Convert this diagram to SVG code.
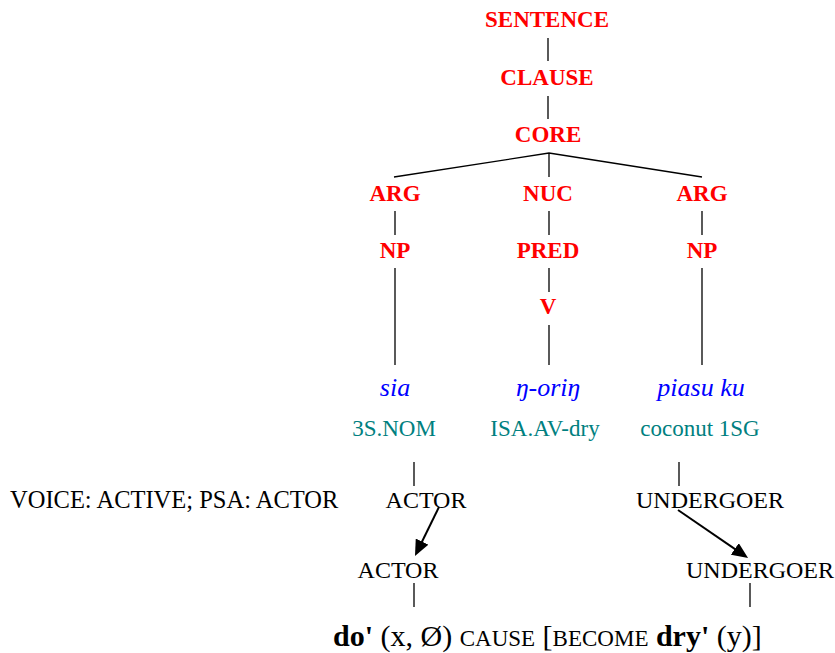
<svg xmlns="http://www.w3.org/2000/svg" width="835" height="653" viewBox="0 0 835 653">
  <defs>
    <style>
      .lbl { font-family: "Liberation Serif", "Times New Roman", serif; font-weight: bold; font-size: 23px; fill: #ff0000; text-anchor: middle; }
      .word { font-family: "Liberation Serif", "Times New Roman", serif; font-style: italic; font-size: 26px; fill: #0000ff; text-anchor: middle; }
      .gloss { font-family: "Liberation Serif", "Times New Roman", serif; font-size: 23px; fill: #008080; text-anchor: middle; }
      .role { font-family: "Liberation Serif", "Times New Roman", serif; font-size: 24px; fill: #000000; text-anchor: middle; }
      .plain { font-family: "Liberation Serif", "Times New Roman", serif; font-size: 24.5px; fill: #000000; }
      .ls { font-family: "Liberation Serif", "Times New Roman", serif; font-size: 30px; fill: #000000; }
      .edge { stroke: #000000; stroke-width: 1.3; fill: none; }
      .link { stroke: #000000; stroke-width: 2; fill: none; marker-end: url(#head); }
    </style>
    <marker id="head" viewBox="0 0 16 14" refX="6" refY="7" markerWidth="16" markerHeight="14" markerUnits="userSpaceOnUse" orient="auto">
      <path d="M0,0 L16,7 L0,14 z" fill="#000000"/>
    </marker>
  </defs>
  <rect width="835" height="653" fill="#ffffff"/>

  <!-- tree edges and linking arrows -->
  <g id="connectors">
    <line class="edge" x1="548" y1="38" x2="548" y2="61"/>
    <line class="edge" x1="548" y1="96" x2="548" y2="119"/>
    <polyline class="edge" points="394,177 549,153 702,177"/>
    <line class="edge" x1="549" y1="153" x2="549" y2="177"/>
    <line class="edge" x1="395" y1="211" x2="395" y2="235"/>
    <line class="edge" x1="549" y1="211" x2="549" y2="235"/>
    <line class="edge" x1="702" y1="211" x2="702" y2="235"/>
    <line class="edge" x1="395" y1="268" x2="395" y2="365"/>
    <line class="edge" x1="549" y1="268" x2="549" y2="292"/>
    <line class="edge" x1="549" y1="325" x2="549" y2="365"/>
    <line class="edge" x1="702" y1="268" x2="702" y2="365"/>
    <line class="edge" x1="414" y1="462" x2="414" y2="486"/>
    <line class="edge" x1="679" y1="462" x2="679" y2="486"/>
    <line class="edge" x1="414" y1="583" x2="414" y2="607"/>
    <line class="edge" x1="750" y1="583" x2="750" y2="607"/>
    <line class="link" x1="439" y1="507" x2="419.4" y2="547"/>
    <line class="link" x1="678" y1="510" x2="739.8" y2="552.3"/>
  </g>

  <g id="sentence"><text class="lbl" x="547" y="27">SENTENCE</text></g>
  <g id="clause"><text class="lbl" x="547" y="85">CLAUSE</text></g>
  <g id="core"><text class="lbl" x="548" y="142">CORE</text></g>
  <g id="arg-left"><text class="lbl" x="395" y="201">ARG</text></g>
  <g id="nuc"><text class="lbl" x="548" y="201">NUC</text></g>
  <g id="arg-right"><text class="lbl" x="702" y="201">ARG</text></g>
  <g id="np-left"><text class="lbl" x="395" y="258">NP</text></g>
  <g id="pred"><text class="lbl" x="548" y="258">PRED</text></g>
  <g id="np-right"><text class="lbl" x="702" y="258">NP</text></g>
  <g id="v"><text class="lbl" x="548" y="314">V</text></g>

  <g id="sia">
    <text class="word" x="395" y="396">sia</text>
    <text class="gloss" x="394" y="436">3S.NOM</text>
  </g>
  <g id="oring">
    <text class="word" x="548" y="396">ŋ-oriŋ</text>
    <text class="gloss" x="545" y="436">ISA.AV-dry</text>
  </g>
  <g id="piasu-ku">
    <text class="word" x="701" y="396">piasu ku</text>
    <text class="gloss" x="700" y="436">coconut 1SG</text>
  </g>

  <g id="voice"><text class="plain" x="10" y="508">VOICE: ACTIVE; PSA: ACTOR</text></g>
  <g id="actor-top"><text class="role" x="426" y="508">ACTOR</text></g>
  <g id="undergoer-top"><text class="role" x="710" y="508">UNDERGOER</text></g>
  <g id="actor-bottom"><text class="role" x="398" y="578">ACTOR</text></g>
  <g id="undergoer-bottom"><text class="role" x="760" y="578">UNDERGOER</text></g>

  <g id="logical-structure">
    <text class="ls" x="333" y="646"><tspan font-weight="bold">do'</tspan> (x, Ø) <tspan font-size="23">CAUSE</tspan> [<tspan font-size="23">BECOME</tspan> <tspan font-weight="bold">dry'</tspan> (y)]</text>
  </g>
</svg>
